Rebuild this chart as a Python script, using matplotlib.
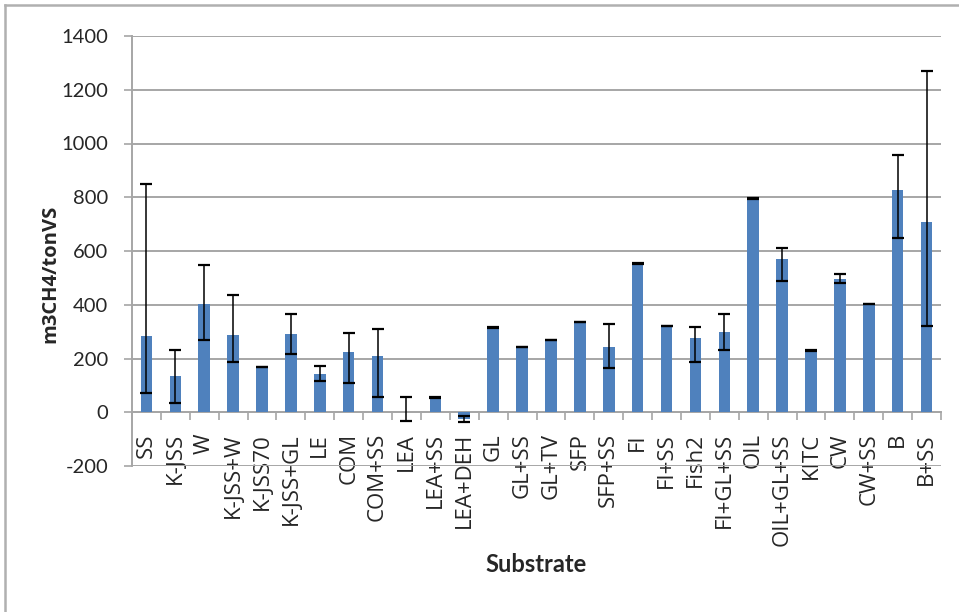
import numpy as np
import matplotlib.pyplot as plt
from matplotlib.lines import Line2D

substrates = ["SS", "K-JSS", "W", "K-JSS+W", "K-JSS70", "K-JSS+GL", "LE", "COM",
              "COM+SS", "LEA", "LEA+SS", "LEA+DEH", "GL", "GL+SS", "GL+TV", "SFP",
              "SFP+SS", "FI", "FI+SS", "Fish2", "FI+GL+SS", "OIL", "OIL+GL+SS",
              "KITC", "CW", "CW+SS", "B", "B+SS"]
yield_m3 = [283, 134, 403, 288, 169, 293, 144, 224,
            211, 0, 54, -25, 316, 243, 268, 335,
            243, 553, 321, 278, 298, 796, 570,
            229, 497, 402, 827, 708]
err_low = [211, 100, 135, 101, 1, 75, 29, 115,
           154, 33, 2, 10, 1, 1, 1, 1,
           80, 2, 1, 91, 65, 2, 83,
           1, 15, 1, 177, 387]
err_high = [568, 99, 146, 147, 1, 74, 28, 71,
            99, 58, 2, 10, 1, 1, 1, 1,
            87, 2, 1, 38, 69, 2, 42,
            1, 19, 1, 129, 562]
yticks = [-200, 0, 200, 400, 600, 800, 1000, 1200, 1400]

grid_col = "#a6a6a6"
text_col = "#262626"

fig = plt.figure(figsize=(9.59, 6.12), dpi=100)
ax = fig.add_axes([132 / 959, 1 - 466 / 612, (941 - 132) / 959, (466 - 36) / 612])

x = np.arange(len(substrates))
ax.bar(x, yield_m3, width=0.4, color="#4f81bd", zorder=3)
ax.errorbar(x, yield_m3, yerr=[err_low, err_high], fmt="none", ecolor="black",
            elinewidth=1.1, capsize=4, capthick=1.6, zorder=4)

ax.set_xlim(-0.5, len(substrates) - 0.5)
ax.set_ylim(-200, 1400)
ax.set_yticks(yticks)
ax.set_yticklabels([str(v) for v in yticks], family="Lato", fontsize=14.5, color=text_col)
ax.yaxis.grid(True, color=grid_col, linewidth=1.4, zorder=0)
ax.tick_params(axis="y", length=6, width=1.2, color=grid_col, pad=11)

# category axis crosses at zero, ticks between the bars
ax.spines["bottom"].set_position(("data", 0))
ax.spines["bottom"].set_color(grid_col)
ax.spines["bottom"].set_linewidth(1.4)
ax.spines["left"].set_color(grid_col)
ax.spines["left"].set_linewidth(1.4)
ax.spines["top"].set_visible(False)
ax.spines["right"].set_visible(False)
ax.set_xticks(x)
ax.set_xticklabels(substrates, rotation=90, family="Open Sans", fontsize=16,
                   color=text_col, va="top")
ax.tick_params(axis="x", length=0, pad=15)
ax.set_xticks(np.arange(len(substrates) + 1) - 0.5, minor=True)
ax.tick_params(axis="x", which="minor", length=6, width=1.2, color=grid_col)

fig.text(536 / 959, 1 - 565 / 612, "Substrate", family="Lato", fontweight="bold",
         fontsize=17, color=text_col, ha="center", va="center")
fig.text(50 / 959, 1 - 274 / 612, "m3CH4/tonVS", family="Open Sans", fontweight="bold",
         fontsize=14.5, color=text_col, ha="center", va="center", rotation=90)

# chart frame
fig.add_artist(Line2D([5 / 959, 5 / 959], [0, 1 - 5 / 612], color="#b0b0b0", linewidth=1.8))
fig.add_artist(Line2D([5 / 959, 1], [1 - 5 / 612, 1 - 5 / 612], color="#b0b0b0", linewidth=1.8))

fig.savefig("out.png", dpi=100)
